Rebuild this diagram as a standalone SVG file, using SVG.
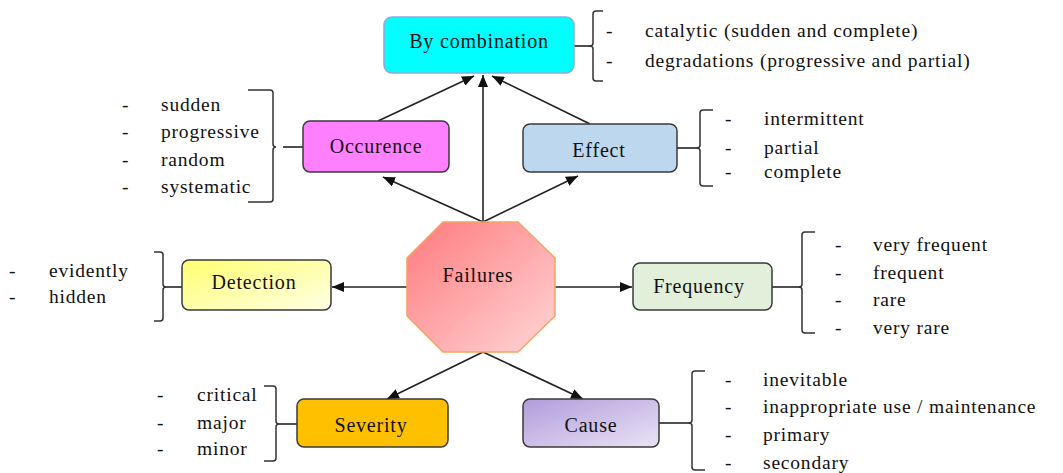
<svg xmlns="http://www.w3.org/2000/svg" width="1063" height="473" viewBox="0 0 1063 473">
  <style>
    .box { stroke: #3a3a3a; stroke-width: 1.5; }
    .lbl { font-family: "Liberation Serif", "DejaVu Serif", serif; font-size: 20px; letter-spacing: 0.8px; fill: #111; text-anchor: middle; }
    .item { font-family: "Liberation Serif", "DejaVu Serif", serif; font-size: 19.5px; letter-spacing: 0.8px; fill: #111; }
    .brace { fill: none; stroke: #333; stroke-width: 1.5; }
    .conn { fill: none; stroke: #222; stroke-width: 1.6; }
  </style>
  <defs>
    <marker id="arrow" markerUnits="userSpaceOnUse" viewBox="0 0 12 10" refX="12" refY="5" markerWidth="12" markerHeight="10" orient="auto">
      <path d="M0,0 L12,5 L0,10 Z" fill="#111"/>
    </marker>
    <linearGradient id="gFail" x1="0" y1="0" x2="1" y2="1">
      <stop offset="0" stop-color="#FF7A7E"/>
      <stop offset="1" stop-color="#FFD6D6"/>
    </linearGradient>
    <linearGradient id="gDet" x1="0" y1="0" x2="1" y2="1">
      <stop offset="0" stop-color="#FFFF70"/>
      <stop offset="1" stop-color="#FFFFE6"/>
    </linearGradient>
    <linearGradient id="gCause" x1="0" y1="0" x2="1" y2="1">
      <stop offset="0" stop-color="#B19CDB"/>
      <stop offset="1" stop-color="#E9E3F5"/>
    </linearGradient>
  </defs>

  <!-- connectors -->
  <g id="connectors">
    <line class="conn" x1="483" y1="222" x2="483" y2="75" marker-end="url(#arrow)"/>
    <line class="conn" x1="378" y1="121" x2="474" y2="76" marker-end="url(#arrow)"/>
    <line class="conn" x1="590" y1="124" x2="492" y2="76" marker-end="url(#arrow)"/>
    <line class="conn" x1="483" y1="222" x2="383" y2="177" marker-end="url(#arrow)"/>
    <line class="conn" x1="483" y1="222" x2="578" y2="176" marker-end="url(#arrow)"/>
    <line class="conn" x1="407" y1="287" x2="332" y2="287" marker-end="url(#arrow)"/>
    <line class="conn" x1="555" y1="287" x2="632" y2="287" marker-end="url(#arrow)"/>
    <line class="conn" x1="483" y1="352" x2="387" y2="399" marker-end="url(#arrow)"/>
    <line class="conn" x1="483" y1="352" x2="583" y2="399" marker-end="url(#arrow)"/>
    <!-- brace links -->
    <line class="conn" x1="574" y1="46" x2="592" y2="46"/>
    <line class="conn" x1="283" y1="147" x2="303" y2="147"/>
    <line class="conn" x1="677" y1="148" x2="699" y2="148"/>
    <line class="conn" x1="164" y1="287" x2="182" y2="287"/>
    <line class="conn" x1="772" y1="287" x2="801" y2="287"/>
    <line class="conn" x1="277" y1="424" x2="297" y2="424"/>
    <line class="conn" x1="659" y1="423" x2="691" y2="423"/>
  </g>

  <!-- By combination -->
  <g id="node-combination">
    <rect x="384" y="17" width="190" height="56" rx="8" fill="#00FFFF" stroke="#8FAADC" stroke-width="1.5"/>
    <text class="lbl" x="479" y="48">By combination</text>
    <path class="brace" d="M603,11 H596 Q593,11 593,14 V43 Q593,46 590,46 Q593,46 593,49 V78 Q593,81 596,81 H603"/>
    <text class="item" x="606" y="37">-</text>
    <text class="item" x="645" y="37">catalytic (sudden and complete)</text>
    <text class="item" x="606" y="67">-</text>
    <text class="item" x="645" y="67" letter-spacing="1.1">degradations (progressive  and partial)</text>
  </g>

  <!-- Occurence -->
  <g id="node-occurence">
    <rect class="box" x="303" y="121" width="146" height="51" rx="7" fill="#FF80FF"/>
    <text class="lbl" x="376" y="153">Occurence</text>
    <path class="brace" d="M248,90 H270 Q273,90 273,93 V144 Q273,147 276,147 Q273,147 273,150 V199 Q273,202 270,202 H248"/>
    <text class="item" x="122" y="111">-</text>
    <text class="item" x="161" y="111">sudden</text>
    <text class="item" x="122" y="138">-</text>
    <text class="item" x="161" y="138">progressive</text>
    <text class="item" x="122" y="166">-</text>
    <text class="item" x="161" y="166">random</text>
    <text class="item" x="122" y="193">-</text>
    <text class="item" x="161" y="193">systematic</text>
  </g>

  <!-- Effect -->
  <g id="node-effect">
    <rect class="box" x="523" y="124" width="154" height="48" rx="7" fill="#BDD7EE"/>
    <text class="lbl" x="599" y="157">Effect</text>
    <path class="brace" d="M713,110 H703 Q700,110 700,113 V145 Q700,148 697,148 Q700,148 700,151 V183 Q700,186 703,186 H713"/>
    <text class="item" x="725" y="125">-</text>
    <text class="item" x="764" y="125">intermittent</text>
    <text class="item" x="725" y="154">-</text>
    <text class="item" x="764" y="154">partial</text>
    <text class="item" x="725" y="178">-</text>
    <text class="item" x="764" y="178">complete</text>
  </g>

  <!-- Failures -->
  <g id="node-failures">
    <polygon points="443,222 518,222 555,258 555,316 518,352 443,352 407,316 407,258" fill="url(#gFail)" stroke="#F4A460" stroke-width="1.5"/>
    <text class="lbl" x="478" y="282">Failures</text>
  </g>

  <!-- Detection -->
  <g id="node-detection">
    <rect class="box" x="182" y="260" width="149" height="50" rx="7" fill="url(#gDet)"/>
    <text class="lbl" x="254" y="289">Detection</text>
    <path class="brace" d="M154,252 H160 Q163,252 163,255 V284 Q163,287 166,287 Q163,287 163,290 V318 Q163,321 160,321 H154"/>
    <text class="item" x="9" y="277">-</text>
    <text class="item" x="49" y="277">evidently</text>
    <text class="item" x="9" y="303">-</text>
    <text class="item" x="49" y="303">hidden</text>
  </g>

  <!-- Frequency -->
  <g id="node-frequency">
    <rect class="box" x="633" y="263" width="139" height="47" rx="7" fill="#E2EFDA"/>
    <text class="lbl" x="699" y="293">Frequency</text>
    <path class="brace" d="M815,232 H805 Q802,232 802,235 V284 Q802,287 799,287 Q802,287 802,290 V330 Q802,333 805,333 H815"/>
    <text class="item" x="835" y="251">-</text>
    <text class="item" x="873" y="251">very frequent</text>
    <text class="item" x="835" y="279">-</text>
    <text class="item" x="873" y="279">frequent</text>
    <text class="item" x="835" y="306">-</text>
    <text class="item" x="873" y="306">rare</text>
    <text class="item" x="835" y="334">-</text>
    <text class="item" x="873" y="334">very rare</text>
  </g>

  <!-- Severity -->
  <g id="node-severity">
    <rect class="box" x="297" y="399" width="151" height="48" rx="7" fill="#FFC000"/>
    <text class="lbl" x="371" y="432">Severity</text>
    <path class="brace" d="M264,386 H273 Q276,386 276,389 V421 Q276,424 279,424 Q276,424 276,427 V458 Q276,461 273,461 H264"/>
    <text class="item" x="157" y="401">-</text>
    <text class="item" x="197" y="401">critical</text>
    <text class="item" x="157" y="429">-</text>
    <text class="item" x="197" y="429">major</text>
    <text class="item" x="157" y="455">-</text>
    <text class="item" x="197" y="455">minor</text>
  </g>

  <!-- Cause -->
  <g id="node-cause">
    <rect class="box" x="523" y="399" width="136" height="48" rx="7" fill="url(#gCause)"/>
    <text class="lbl" x="591" y="432">Cause</text>
    <path class="brace" d="M705,371 H695 Q692,371 692,374 V420 Q692,423 689,423 Q692,423 692,426 V467 Q692,470 695,470 H705"/>
    <text class="item" x="725" y="386">-</text>
    <text class="item" x="763" y="386">inevitable</text>
    <text class="item" x="725" y="413">-</text>
    <text class="item" x="763" y="413">inappropriate use / maintenance</text>
    <text class="item" x="725" y="441">-</text>
    <text class="item" x="763" y="441">primary</text>
    <text class="item" x="725" y="469">-</text>
    <text class="item" x="763" y="469">secondary</text>
  </g>
</svg>
